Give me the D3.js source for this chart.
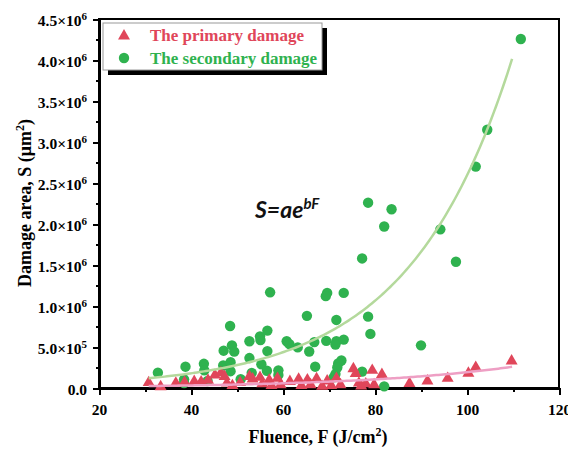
<!DOCTYPE html>
<html lang="en">
<head>
<meta charset="UTF-8">
<title>Damage area vs fluence</title>
<style>
body { margin: 0; background: #fff; }
.axis path, .axis line { stroke: #000; shape-rendering: crispEdges; }
.axis text { font-family: "Liberation Serif", "Times New Roman", serif; font-weight: bold; font-size: 15.5px; fill: #000; }
.title { font-family: "Liberation Serif", "Times New Roman", serif; font-weight: bold; font-size: 18px; fill: #000; }
.legend-text { font-family: "Liberation Serif", "Times New Roman", serif; font-weight: bold; font-size: 17px; }
</style>
</head>
<body>
<div id="chart"></div>
<script src="https://d3js.org/d3.v7.min.js"></script>
<script>
var width = 568, height = 451;
var margin = { left: 99, right: 9, top: 19, bottom: 63 };

// primary damage (triangles): fluence F (J/cm2), area S (um2)
var primaryF = [30.8, 33.4, 36.7, 38.6, 40.7, 42.2, 43.7, 45.2, 46.5, 47.3, 47.8, 49.0, 50.7, 52.7, 53.4, 55.0,
    55.5, 57.0, 57.5, 58.8, 59.5, 61.5, 63.4, 64.0, 65.3, 66.0, 67.3, 68.5, 69.6, 70.5, 71.6, 72.5, 75.3, 75.8,
    76.5, 77.0, 78.0, 79.4, 79.8, 81.5, 87.5, 91.4, 95.8, 100.3, 101.9, 109.7];
var primaryS = [65e3, 15e3, 60e3, 70e3, 80e3, 75e3, 95e3, 158e3, 185e3, 140e3, 60e3, 30e3, 65e3, 140e3, 110e3, 130e3,
    50e3, 97e3, 30e3, 118e3, 40e3, 80e3, 108e3, 30e3, 100e3, 40e3, 115e3, 20e3, 85e3, 30e3, 118e3, 40e3, 235e3, 175e3,
    60e3, 25e3, 50e3, 215e3, 40e3, 165e3, 55e3, 85e3, 118e3, 180e3, 252e3, 330e3];

// secondary damage (circles)
var secondaryF = [32.8, 38.8, 38.5, 38.5, 42.8, 42.9, 43.6, 47.1, 47.0, 48.5, 48.9, 49.4, 48.6, 48.6, 50.8, 52.7,
    52.7, 53.2, 55.0, 55.1, 56.6, 57.2, 56.6, 55.3, 56.5, 59.0, 59.0, 60.8, 61.4, 63.2, 65.2, 65.7, 66.8, 67.0,
    69.6, 69.3, 73.2, 71.6, 69.4, 71.6, 71.4, 73.2, 72.7, 72.0, 71.8, 71.4, 71.0, 78.5, 79.0, 77.2, 78.5, 83.6,
    82.0, 94.2, 77.2, 97.6, 90.0, 82.0, 101.9, 104.4, 111.7];
var secondaryS = [187e3, 260e3, 106e3, 60e3, 295e3, 215e3, 85e3, 455e3, 275e3, 756e3, 520e3, 443e3, 315e3, 205e3, 108e3, 570e3,
    365e3, 185e3, 630e3, 585e3, 700e3, 1167e3, 450e3, 290e3, 210e3, 215e3, 160e3, 570e3, 535e3, 495e3, 880e3, 445e3, 560e3, 260e3,
    1160e3, 1120e3, 1160e3, 830e3, 575e3, 570e3, 530e3, 590e3, 335e3, 300e3, 250e3, 170e3, 130e3, 870e3, 660e3, 200e3, 2260e3, 2180e3,
    1970e3, 1935e3, 1580e3, 1540e3, 520e3, 20e3, 2700e3, 3150e3, 4256e3];

// exponential fits S = a*exp(b*F)
var fitSecondary = { a: 30.1e3, b: 0.04456, from: 30.8, to: 110 };
var fitPrimary = { a: 9.42e3, b: 0.03016, from: 30.8, to: 110 };

var xTicks = [20, 40, 60, 80, 100, 120];
var xMinor = [30, 50, 70, 90, 110];
var yTicks = [0, 0.5e6, 1.0e6, 1.5e6, 2.0e6, 2.5e6, 3.0e6, 3.5e6, 4.0e6, 4.5e6];
var yMinor = [0.25e6, 0.75e6, 1.25e6, 1.75e6, 2.25e6, 2.75e6, 3.25e6, 3.75e6, 4.25e6];

var red = '#e0465a', green = '#2fb24f';

var svg = d3.select('#chart').append('svg').attr('width', width).attr('height', height);

var x = d3.scaleLinear().domain([20, 120]).range([margin.left, width - margin.right]);
var y = d3.scaleLinear().domain([0, 4.5e6]).range([height - margin.bottom, margin.top]);

// frame
svg.append('rect')
    .attr('x', x(20)).attr('y', y(4.5e6))
    .attr('width', x(120) - x(20)).attr('height', y(0) - y(4.5e6))
    .attr('fill', 'none').attr('stroke', '#000').attr('stroke-width', 2);

// minor ticks
svg.append('g').attr('class', 'axis')
    .attr('transform', 'translate(0,' + y(0) + ')')
    .call(d3.axisBottom(x).tickValues(xMinor).tickSize(4).tickFormat(''))
    .call(function(g) { g.select('.domain').remove(); })
    .selectAll('line').attr('stroke-width', 2);
svg.append('g').attr('class', 'axis')
    .attr('transform', 'translate(' + x(20) + ',0)')
    .call(d3.axisLeft(y).tickValues(yMinor).tickSize(3).tickFormat(''))
    .call(function(g) { g.select('.domain').remove(); })
    .selectAll('line').attr('stroke-width', 2);

// major ticks
var xAxis = svg.append('g').attr('class', 'axis')
    .attr('transform', 'translate(0,' + y(0) + ')')
    .call(d3.axisBottom(x).tickValues(xTicks).tickSize(7).tickPadding(9))
    .call(function(g) { g.select('.domain').attr('stroke-width', 2); });
xAxis.selectAll('line').attr('stroke-width', 2);

var yAxis = svg.append('g').attr('class', 'axis')
    .attr('transform', 'translate(' + x(20) + ',0)')
    .call(d3.axisLeft(y).tickValues(yTicks).tickSize(6).tickPadding(6))
    .call(function(g) { g.select('.domain').attr('stroke-width', 2); });
yAxis.selectAll('line').attr('stroke-width', 2);

// y tick labels as mantissa x 10^exp
yAxis.selectAll('text').each(function(d) {
    var t = d3.select(this).text('');
    t.attr('dy', '0.4em');
    if (d === 0) { t.text('0.0'); return; }
    var e = Math.floor(Math.log10(d));
    var m = d / Math.pow(10, e);
    t.append('tspan').text(m.toFixed(1) + '\u00d710');
    t.append('tspan').attr('dy', -6).style('font-size', '11px').text(e);
});

// data points
svg.append('g').selectAll('circle')
    .data(d3.range(secondaryF.length))
    .join('circle')
    .attr('cx', function(i) { return x(secondaryF[i]); })
    .attr('cy', function(i) { return y(secondaryS[i]); })
    .attr('r', 5.2)
    .attr('fill', green);

var tri = d3.symbol().type(d3.symbolTriangle).size(62);
svg.append('g').selectAll('path')
    .data(d3.range(primaryF.length))
    .join('path')
    .attr('d', tri)
    .attr('transform', function(i) { return 'translate(' + x(primaryF[i]) + ',' + y(primaryS[i]) + ')'; })
    .attr('fill', red);

// fit curves
function fitPath(f) {
    var pts = d3.range(f.from, f.to + 0.01, 0.5).map(function(F) { return [F, f.a * Math.exp(f.b * F)]; });
    return d3.line().x(function(p) { return x(p[0]); }).y(function(p) { return y(p[1]); })(pts);
}
svg.append('path').attr('d', fitPath(fitSecondary))
    .attr('fill', 'none').attr('stroke', '#b4d99c').attr('stroke-width', 2.5);
svg.append('path').attr('d', fitPath(fitPrimary))
    .attr('fill', 'none').attr('stroke', '#ee9fc4').attr('stroke-width', 2.5);

// formula
var formula = svg.append('text')
    .attr('x', 255).attr('y', 218)
    .attr('font-family', 'Lato, "Open Sans", sans-serif')
    .attr('font-style', 'italic').attr('font-weight', 'bold')
    .attr('font-size', 23).attr('fill', '#111');
formula.append('tspan').text('S=ae');
formula.append('tspan').attr('dy', -9).attr('font-size', 15).text('bF');

// axis titles
svg.append('text').attr('class', 'title')
    .attr('text-anchor', 'middle')
    .attr('transform', 'translate(31,203) rotate(-90)')
    .call(function(t) {
        t.append('tspan').text('Damage area, S (\u03bcm');
        t.append('tspan').attr('dy', -7).style('font-size', '12px').text('2');
        t.append('tspan').attr('dy', 7).text(')');
    });
svg.append('text').attr('class', 'title')
    .attr('text-anchor', 'middle')
    .attr('x', 318).attr('y', 443)
    .call(function(t) {
        t.append('tspan').text('Fluence, F (J/cm');
        t.append('tspan').attr('dy', -7).style('font-size', '12px').text('2');
        t.append('tspan').attr('dy', 7).text(')');
    });

// legend
var legend = svg.append('g');
legend.append('rect').attr('x', 108).attr('y', 28).attr('width', 219).attr('height', 47).attr('fill', '#000');
legend.append('rect').attr('x', 103).attr('y', 23).attr('width', 219).attr('height', 47)
    .attr('fill', '#fff').attr('stroke', '#999').attr('stroke-width', 1);
legend.append('path').attr('d', tri).attr('transform', 'translate(124,36)').attr('fill', red);
legend.append('circle').attr('cx', 124).attr('cy', 58).attr('r', 5.2).attr('fill', green);
legend.append('text').attr('class', 'legend-text').attr('x', 150).attr('y', 41)
    .attr('fill', red).text('The primary damage');
legend.append('text').attr('class', 'legend-text').attr('x', 150).attr('y', 64)
    .attr('fill', green).text('The secondary damage');
</script>
</body>
</html>
